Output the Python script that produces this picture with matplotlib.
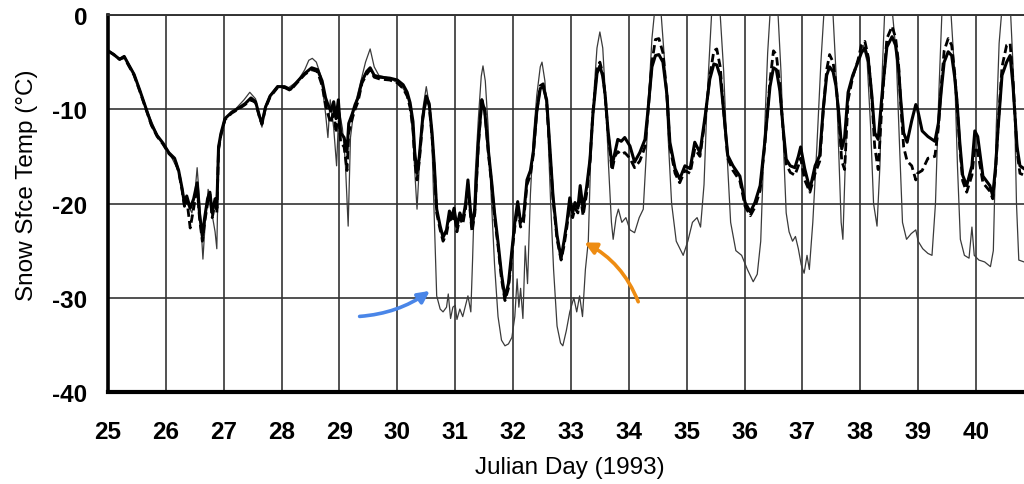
import matplotlib
matplotlib.use("Agg")
import matplotlib.pyplot as plt
import numpy as np

# Modelled snow surface temperature (thick solid) and its variant (dashed)
day = [25.00, 25.10, 25.20, 25.28, 25.35, 25.45, 25.55, 25.65, 25.75, 25.85,
       25.95, 26.05, 26.15, 26.22, 26.28, 26.32, 26.36, 26.42, 26.48, 26.54,
       26.58, 26.63, 26.67, 26.72, 26.76, 26.80, 26.85, 26.88, 26.91, 26.95,
       27.02, 27.14, 27.25, 27.37, 27.47, 27.55, 27.62, 27.66, 27.72, 27.80,
       27.93, 28.05, 28.15, 28.28, 28.40, 28.52, 28.62, 28.70, 28.76, 28.80,
       28.85, 28.90, 28.94, 28.98, 29.02, 29.08, 29.13, 29.16, 29.22, 29.27,
       29.32, 29.39, 29.47, 29.53, 29.60, 29.70, 29.87, 30.00, 30.10, 30.17,
       30.22, 30.27, 30.30, 30.34, 30.38, 30.44, 30.50, 30.55, 30.60, 30.64,
       30.68, 30.74, 30.79, 30.85, 30.90, 30.94, 30.98, 31.03, 31.08, 31.13,
       31.18, 31.22, 31.26, 31.29, 31.34, 31.40, 31.46, 31.51, 31.57, 31.63,
       31.68, 31.74, 31.80, 31.86, 31.92, 31.97, 32.03, 32.08, 32.13, 32.18,
       32.24, 32.30, 32.35, 32.41, 32.47, 32.52, 32.58, 32.63, 32.69, 32.76,
       32.83, 32.88, 32.93, 32.98, 33.03, 33.07, 33.12, 33.16, 33.21, 33.27,
       33.33, 33.38, 33.45, 33.50, 33.55, 33.59, 33.64, 33.71, 33.76, 33.81,
       33.87, 33.93, 34.02, 34.10, 34.19, 34.28, 34.33, 34.40, 34.46, 34.52,
       34.59, 34.66, 34.71, 34.80, 34.88, 34.97, 35.06, 35.14, 35.23, 35.32,
       35.40, 35.47, 35.52, 35.58, 35.63, 35.71, 35.80, 35.92, 36.01, 36.10,
       36.18, 36.27, 36.35, 36.44, 36.50, 36.55, 36.61, 36.67, 36.72, 36.79,
       36.87, 36.93, 36.97, 37.04, 37.13, 37.22, 37.30, 37.36, 37.42, 37.47,
       37.53, 37.58, 37.63, 37.68, 37.73, 37.79, 37.87, 37.96, 38.02, 38.08,
       38.14, 38.20, 38.25, 38.31, 38.38, 38.46, 38.55, 38.61, 38.66, 38.70,
       38.75, 38.81, 38.89, 38.96, 38.99, 39.07, 39.17, 39.29, 39.35, 39.40,
       39.45, 39.52, 39.58, 39.63, 39.67, 39.72, 39.77, 39.84, 39.93, 39.98,
       40.03, 40.12, 40.24, 40.29, 40.34, 40.38, 40.45, 40.53, 40.59, 40.64,
       40.71, 40.76, 40.83]

temp_model = [-3.8, -4.2, -4.7, -4.4, -5.2, -6.3, -8.0, -9.8, -11.6, -12.8,
              -13.6, -14.6, -15.2, -16.5, -18.4, -20.0, -19.2, -20.5, -19.5, -17.8,
              -21.0, -23.5, -21.5, -19.5, -18.8, -21.0, -19.5, -20.5, -14.0, -12.6,
              -11.0, -10.3, -9.9, -9.4, -8.8, -9.2, -10.8, -11.5, -9.8, -8.6,
              -7.6, -7.6, -7.9, -7.0, -6.2, -5.6, -5.8, -7.0, -8.8, -9.5,
              -10.2, -9.2, -11.0, -9.0, -12.5, -13.0, -14.5, -11.5, -10.5, -9.5,
              -8.8, -7.0, -6.0, -5.6, -6.4, -6.6, -6.7, -6.9, -7.4, -8.2,
              -9.3, -11.3, -14.5, -16.8, -15.0, -10.8, -8.6, -9.4, -12.5, -16.0,
              -20.6, -22.4, -23.6, -22.8, -20.8, -21.5, -20.5, -22.5, -21.0, -21.8,
              -20.0, -17.5, -20.5, -22.5, -20.5, -13.5, -9.0, -10.2, -14.2, -17.7,
              -21.0, -24.1, -27.5, -30.0, -28.5, -25.5, -22.0, -19.8, -22.0, -21.5,
              -17.5, -16.5, -14.5, -10.2, -7.8, -7.6, -9.0, -13.5, -19.2, -23.4,
              -25.8, -24.0, -22.0, -19.4, -21.0, -19.9, -20.5, -18.1, -20.6, -18.3,
              -15.3, -10.5, -6.2, -5.4, -6.5, -8.4, -12.2, -16.0, -14.6, -13.2,
              -13.4, -13.0, -13.9, -15.6, -14.6, -13.2, -10.2, -5.5, -4.3, -4.2,
              -5.0, -8.5, -13.5, -16.3, -17.4, -16.0, -16.3, -13.5, -14.6, -10.7,
              -6.8, -5.2, -5.3, -6.5, -9.6, -14.9, -16.0, -17.1, -19.9, -20.9,
              -19.9, -18.1, -13.5, -7.6, -5.6, -5.8, -8.0, -12.2, -15.3, -16.0,
              -16.2, -15.0, -14.0, -16.3, -18.5, -16.0, -14.9, -10.0, -6.4, -5.5,
              -6.0, -7.5, -10.5, -14.2, -13.0, -8.2, -6.4, -5.0, -4.0, -3.5,
              -4.8, -8.5, -12.5, -13.2, -8.2, -3.4, -2.3, -3.2, -5.5, -9.0,
              -12.5, -13.5, -11.2, -9.5, -10.0, -12.3, -12.9, -13.4, -11.5, -8.0,
              -5.0, -3.9, -4.3, -6.5, -9.0, -13.5, -17.0, -18.1, -16.0, -12.3,
              -12.9, -17.1, -18.1, -19.2, -16.0, -12.2, -6.4, -5.0, -4.3, -7.5,
              -14.0, -16.0, -16.3]

temp_alt = [-3.8, -4.2, -4.7, -4.5, -5.3, -6.4, -8.1, -9.9, -11.7, -12.9,
            -13.7, -14.7, -15.3, -16.6, -18.6, -20.3, -19.5, -22.6, -20.5, -18.2,
            -21.5, -24.0, -22.0, -20.0, -19.0, -21.5, -20.0, -21.0, -14.2, -12.8,
            -11.1, -10.4, -10.0, -9.5, -9.0, -9.3, -10.9, -11.6, -9.9, -8.7,
            -7.7, -7.7, -8.0, -7.1, -6.3, -5.8, -6.0, -7.5, -9.5, -10.5,
            -11.5, -10.0, -12.5, -9.8, -13.5, -14.0, -16.5, -12.5, -11.0, -10.0,
            -9.2, -7.2, -6.3, -5.8, -6.6, -6.8, -6.9, -7.2, -7.8, -8.6,
            -9.8, -12.0, -15.5, -17.5, -15.5, -11.0, -8.8, -9.6, -13.0, -16.5,
            -21.0, -22.8, -24.0, -23.2, -21.5, -22.0, -21.0, -23.0, -21.5, -22.2,
            -20.5, -18.0, -21.0, -23.0, -21.0, -13.8, -9.0, -10.0, -14.5, -18.0,
            -21.5, -24.5, -28.0, -30.3, -29.0, -26.0, -22.5, -20.5, -22.5, -22.0,
            -18.0, -17.0, -14.8, -10.2, -7.5, -7.3, -9.2, -14.0, -19.5, -23.8,
            -26.0, -24.5, -22.5, -20.0, -21.5, -20.5, -21.0, -19.0, -21.3, -19.0,
            -15.5, -10.3, -5.8, -5.0, -6.2, -8.5, -12.5, -16.5, -15.0, -14.5,
            -14.8, -14.6, -15.2, -16.2, -15.5, -14.0, -10.5, -5.0, -2.6, -2.5,
            -4.0, -8.5, -14.0, -16.8, -17.8, -16.5, -16.8, -14.2, -15.0, -11.0,
            -6.5, -3.8, -3.6, -5.5, -9.5, -15.2, -16.5, -17.6, -20.3, -21.3,
            -20.4, -18.6, -13.8, -7.0, -3.8, -4.2, -7.5, -12.5, -15.8, -16.7,
            -17.0, -16.0, -15.2, -17.5, -18.8, -16.8, -15.5, -10.2, -5.8, -4.2,
            -5.0, -7.2, -10.8, -15.5, -16.4, -9.0, -6.6, -4.8, -3.2, -2.8,
            -4.5, -8.8, -14.0, -16.4, -9.0, -2.5, -1.2, -2.4, -5.0, -9.5,
            -14.0, -15.5, -16.0, -17.5, -16.8, -16.5, -15.2, -15.0, -12.0, -7.5,
            -3.8, -2.5, -3.2, -6.0, -9.2, -14.0, -17.6, -18.8, -17.0, -14.0,
            -14.5, -17.8, -18.7, -19.5, -16.5, -12.0, -5.5, -3.2, -3.0, -7.0,
            -14.5, -16.8, -17.0]

# Observed snow surface temperature (thin solid)
day_obs = [25.00, 25.20, 25.28, 25.45, 25.65, 25.85, 26.05, 26.22, 26.28, 26.35,
           26.45, 26.50, 26.54, 26.58, 26.64, 26.68, 26.73, 26.78, 26.85, 26.88,
           26.91, 26.96, 27.05, 27.20, 27.35, 27.45, 27.55, 27.62, 27.66, 27.72,
           27.80, 27.93, 28.10, 28.28, 28.40, 28.47, 28.53, 28.60, 28.68, 28.76,
           28.80, 28.84, 28.90, 28.95, 28.99, 29.05, 29.10, 29.15, 29.19, 29.25,
           29.35, 29.45, 29.53, 29.60, 29.68, 29.87, 30.00, 30.10, 30.17, 30.22,
           30.27, 30.31, 30.34, 30.38, 30.44, 30.50, 30.55, 30.60, 30.64, 30.68,
           30.74, 30.79, 30.85, 30.88, 30.92, 30.96, 31.00, 31.03, 31.08, 31.13,
           31.18, 31.22, 31.27, 31.30, 31.34, 31.40, 31.45, 31.48, 31.52, 31.57,
           31.62, 31.68, 31.74, 31.80, 31.86, 31.92, 31.98, 32.03, 32.07, 32.10,
           32.13, 32.17, 32.21, 32.25, 32.30, 32.35, 32.41, 32.47, 32.50, 32.55,
           32.60, 32.65, 32.70, 32.76, 32.82, 32.86, 32.92, 32.98, 33.05, 33.10,
           33.15, 33.20, 33.25, 33.30, 33.34, 33.40, 33.45, 33.50, 33.55, 33.60,
           33.65, 33.70, 33.73, 33.78, 33.82, 33.88, 33.95, 34.02, 34.10, 34.18,
           34.25, 34.30, 34.35, 34.40, 34.44, 34.56, 34.62, 34.68, 34.74, 34.82,
           34.94, 35.02, 35.10, 35.18, 35.24, 35.30, 35.36, 35.43, 35.58, 35.64,
           35.70, 35.76, 35.85, 35.95, 36.05, 36.15, 36.22, 36.28, 36.33, 36.40,
           36.44, 36.58, 36.63, 36.68, 36.72, 36.77, 36.83, 36.88, 36.93, 36.98,
           37.03, 37.08, 37.12, 37.18, 37.25, 37.32, 37.37, 37.53, 37.58, 37.63,
           37.67, 37.70, 37.74, 37.78, 37.85, 37.96, 38.05, 38.12, 38.18, 38.23,
           38.29, 38.34, 38.38, 38.42, 38.56, 38.62, 38.68, 38.73, 38.80, 38.88,
           38.96, 39.00, 39.08, 39.17, 39.24, 39.30, 39.36, 39.41, 39.57, 39.63,
           39.68, 39.73, 39.80, 39.88, 39.93, 39.97, 40.05, 40.15, 40.25, 40.30,
           40.35, 40.40, 40.44, 40.60, 40.66, 40.70, 40.74, 40.83]

temp_obs = [-3.8, -4.6, -4.3, -6.2, -9.8, -12.7, -14.5, -16.6, -18.8, -19.8,
            -21.0, -19.0, -16.2, -19.5, -25.9, -22.0, -18.5, -20.5, -23.0, -24.8,
            -15.0, -12.5, -10.8, -10.0, -9.0, -8.2, -8.9, -11.0, -11.9, -9.6,
            -8.5, -7.5, -7.8, -7.0, -5.8, -4.8, -4.6, -5.0, -6.5, -10.5,
            -13.0, -9.0, -12.0, -16.0, -10.0, -12.0, -15.5, -22.4, -13.0, -10.0,
            -7.5, -5.0, -3.6, -5.5, -6.4, -6.7, -7.2, -7.8, -8.5, -10.0,
            -13.0, -17.5, -20.6, -16.0, -10.0, -7.6, -9.5, -14.0, -22.0, -29.8,
            -31.2, -31.5, -31.0, -29.6, -32.2, -31.0, -30.8, -32.3, -31.2, -32.0,
            -30.8, -29.8, -31.5, -26.0, -17.5, -11.0, -6.5, -5.4, -7.0, -12.0,
            -19.0, -26.5, -32.0, -34.5, -35.1, -34.9, -34.2, -32.0, -28.0, -31.0,
            -29.0, -32.2, -24.5, -28.5, -19.0, -13.0, -8.5, -5.5, -5.0, -7.0,
            -12.0, -20.0, -27.0, -33.0, -34.8, -35.1, -33.5, -31.5, -30.0, -31.5,
            -29.8, -32.0, -27.0, -24.0, -15.5, -8.0, -3.5, -1.8, -3.5, -9.0,
            -16.0, -22.0, -23.8, -21.5, -20.6, -22.0, -21.5, -22.8, -23.1, -21.5,
            -20.6, -15.0, -8.0, -2.5, 0.0, 0.0, -5.0, -13.0, -20.0, -24.0,
            -25.5, -24.0, -22.0, -21.5, -22.5, -18.0, -8.0, 0.0, 0.0, -6.0,
            -15.0, -22.0, -25.0, -25.5, -27.0, -28.3, -27.5, -24.0, -15.0, -4.0,
            0.0, 0.0, -6.0, -15.0, -21.0, -23.0, -24.0, -23.5, -24.8, -26.5,
            -27.4, -25.5, -27.0, -22.0, -14.0, -5.0, 0.0, 0.0, -6.0, -15.0,
            -22.0, -23.8, -16.0, -9.0, -7.0, -5.0, -3.2, -5.0, -12.0, -20.0,
            -22.4, -16.0, -6.0, 0.0, 0.0, -4.0, -14.0, -22.0, -23.8, -23.2,
            -22.8, -24.0, -24.8, -25.3, -25.5, -20.0, -8.0, 0.0, 0.0, -6.0,
            -16.0, -23.8, -25.5, -25.8, -22.5, -25.5, -26.0, -26.2, -26.7, -25.0,
            -12.0, -3.0, 0.0, 0.0, -8.0, -20.0, -26.0, -26.2]

x_ticks = list(range(25, 41))
y_ticks = [0, -10, -20, -30, -40]

plt.rcParams['font.family'] = ['Liberation Sans', 'DejaVu Sans']
plt.rcParams['axes.unicode_minus'] = False

fig = plt.figure(figsize=(10.24, 4.85), dpi=100)
ax = fig.add_axes([0.1055, 0.1897, 0.8945, 0.7773])

ax.plot(day_obs, temp_obs, color='#3a3a3a', lw=0.9, zorder=3)
ax.plot(day, temp_alt, color='black', lw=2.0, ls=(0, (3, 1.5)), zorder=4)
ax.plot(day, temp_model, color='black', lw=2.2, zorder=5)

ax.set_xlim(25, 40.83)
ax.set_ylim(-40, 0)
ax.set_xticks(x_ticks)
ax.set_yticks(y_ticks)
ax.tick_params(length=0, labelsize=17.5)
ax.tick_params(axis='x', pad=20)
ax.tick_params(axis='y', pad=15)
for lab in ax.get_xticklabels() + ax.get_yticklabels():
    lab.set_fontweight('bold')

ax.grid(True, color='#333333', lw=1.2, zorder=1)
ax.set_axisbelow(True)
ax.spines['right'].set_visible(False)
ax.spines['top'].set_linewidth(1.4)
ax.spines['top'].set_color('#333333')
ax.spines['left'].set_linewidth(2.6)
ax.spines['bottom'].set_linewidth(3.0)

ax.set_ylabel('Snow Sfce Temp (°C)', fontsize=17.5)
ax.yaxis.set_label_coords(-0.077, 0.55)
ax.set_xlabel('Julian Day (1993)', fontsize=17.5)
ax.xaxis.set_label_coords(0.504, -0.17)

ax.annotate('', xy=(30.60, -29.1), xytext=(29.30, -32.0),
            arrowprops=dict(arrowstyle='-|>,head_length=0.7,head_width=0.35',
                            color='#4a86e8', lw=2.6,
                            connectionstyle='arc3,rad=0.15'), zorder=6)
ax.annotate('', xy=(33.19, -24.0), xytext=(34.18, -30.7),
            arrowprops=dict(arrowstyle='-|>,head_length=0.7,head_width=0.35',
                            color='#ee8c12', lw=2.6,
                            connectionstyle='arc3,rad=0.2'), zorder=6)

fig.savefig('out.png', dpi=100)
